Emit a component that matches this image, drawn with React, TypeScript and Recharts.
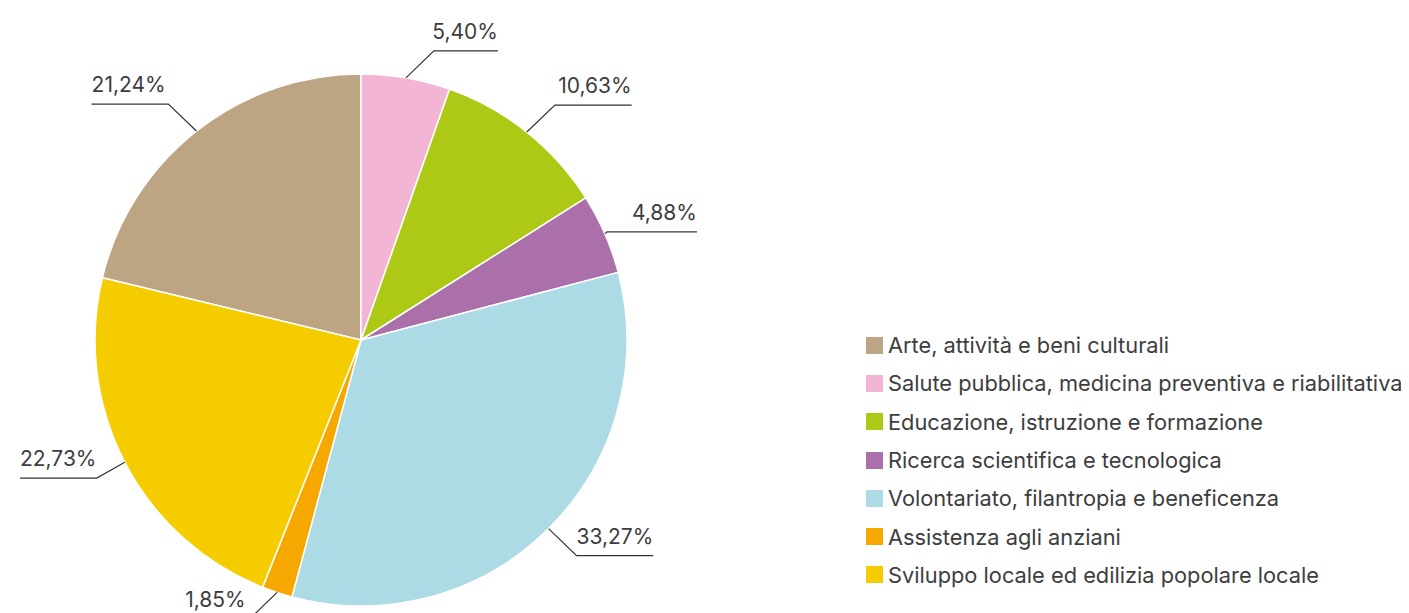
import React from 'react';
import { PieChart, Pie, Cell, Legend } from 'recharts';

const categories = [
  'Arte, attività e beni culturali',
  'Salute pubblica, medicina preventiva e riabilitativa',
  'Educazione, istruzione e formazione',
  'Ricerca scientifica e tecnologica',
  'Volontariato, filantropia e beneficenza',
  'Assistenza agli anziani',
  'Sviluppo locale ed edilizia popolare locale',
];
const shares = [21.24, 5.4, 10.63, 4.88, 33.27, 1.85, 22.73];
const colors = ['#bda482', '#f3b5d4', '#adc916', '#ab6faa', '#acdbe5', '#f6a800', '#f5cc00'];

const data = categories.map((name, i) => ({ name, value: shares[i] }));
const total = shares.reduce((a, b) => a + b, 0);
// first slice (Arte) ends at 12 o'clock, the rest follow clockwise
const START = 90 + (shares[0] / total) * 360;

const FONT = 'Inter, "Noto Sans", sans-serif';
const TEXT = '#3d3d3d';
const RAD = Math.PI / 180;

const fmt = (v: number) => v.toFixed(2).replace('.', ',') + '%';

const renderLabel = (props: any) => {
  const { cx, cy, midAngle, outerRadius, value, index } = props;
  const c = Math.cos(-midAngle * RAD);
  const s = Math.sin(-midAngle * RAD);
  const ex = cx + outerRadius * c;
  const ey = cy + outerRadius * s;
  const t = Math.max(0, Math.min(1, (Math.abs(s) - 0.39) / 0.12));
  const dir = c >= 0 ? 1 : -1;
  const dx = 28 * (t > 0.2 ? 1 : t) * dir;
  const dy = 27 * t * (s >= 0 ? 1 : -1);
  const bx = ex + dx;
  const by = ey + dy;
  const txt = fmt(value);
  const len = txt.length * 12.8;
  const right = dir > 0;
  const lx = ex + dir * (28 + len);
  return (
    <g key={`lab-${index}`}>
      <polyline
        points={`${ex},${ey} ${bx},${by} ${lx},${by}`}
        fill="none"
        stroke="#333"
        strokeWidth={1.2}
      />
      <text
        x={right ? lx : lx}
        y={by - 12}
        textAnchor={right ? 'end' : 'start'}
        fontFamily={FONT}
        fontSize={21}
        fill={TEXT}
      >
        {txt}
      </text>
    </g>
  );
};

const renderLegend = () => (
  <div style={{ fontFamily: FONT, fontSize: 21.8, color: TEXT }}>
    {categories.map((name, i) => (
      <div key={name} style={{ display: 'flex', alignItems: 'center', height: 38.3, whiteSpace: 'nowrap' }}>
        <span style={{ display: 'inline-block', width: 17, height: 17, background: colors[i], marginRight: 5, flexShrink: 0 }} />
        <span>{name}</span>
      </div>
    ))}
  </div>
);

export default function App() {
  return (
    <PieChart width={1401} height={605} margin={{ top: 0, right: 0, bottom: 0, left: 0 }}>
      <Pie
        data={data}
        dataKey="value"
        nameKey="name"
        cx={353}
        cy={332}
        outerRadius={266}
        startAngle={START}
        endAngle={START - 360}
        stroke="#ffffff"
        strokeWidth={1.5}
        label={renderLabel}
        labelLine={false}
        isAnimationActive={false}
      >
        {data.map((d, i) => (
          <Cell key={d.name} fill={colors[i]} />
        ))}
      </Pie>
      <Legend
        content={renderLegend}
        layout="vertical"
        align="right"
        verticalAlign="top"
        wrapperStyle={{ position: 'absolute', left: 858, top: 318, width: 545 }}
      />
    </PieChart>
  );
}
